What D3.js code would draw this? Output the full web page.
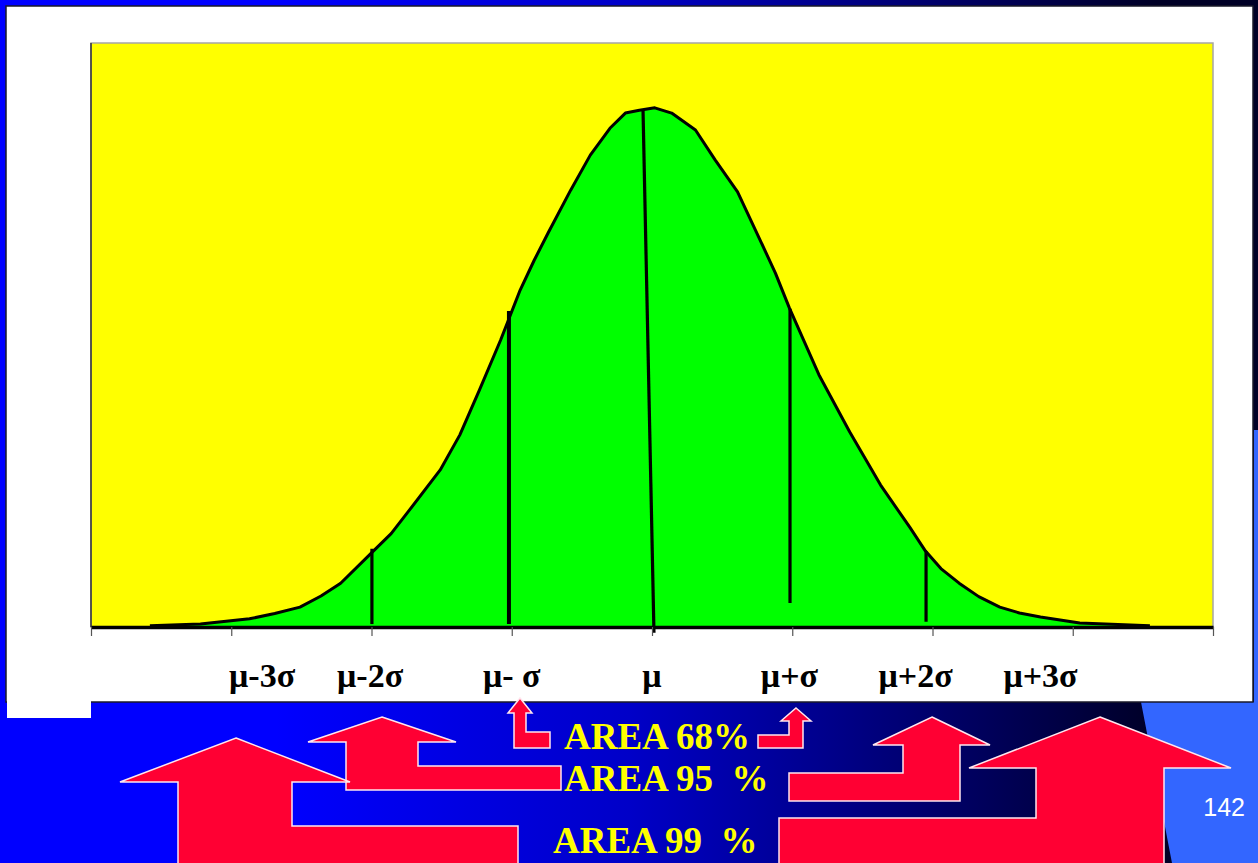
<!DOCTYPE html>
<html>
<head>
<meta charset="utf-8">
<script src="https://cdn.jsdelivr.net/npm/d3@7"></script>
<style>
  html, body { margin: 0; padding: 0; background: #0000ff; }
  svg { display: block; }
</style>
</head>
<body>
<svg id="slide" width="1258" height="863"></svg>
<script>
// Normal curve, x in units of sigma from the mean, height as % of the plot
const curveX = [-3.58, -3.22, -2.87, -2.69, -2.51, -2.36, -2.22, -2.00, -1.86, -1.73, -1.51, -1.37, -1.23,
                -1.08, -0.94, -0.84, -0.74, -0.58, -0.44, -0.30, -0.19, -0.09, 0.02, 0.14,
                0.31, 0.45, 0.61, 0.77, 0.88, 0.98, 1.19, 1.41, 1.63, 1.84, 1.95,
                2.06, 2.19, 2.33, 2.48, 2.62, 2.77, 3.05, 3.55];
const curveY = [0.2, 0.5, 1.4, 2.3, 3.4, 5.3, 7.5, 12.7, 16.0, 20.0, 26.9, 32.9, 40.6,
                49.1, 57.7, 62.8, 67.5, 74.8, 80.8, 85.4, 88.0, 88.5, 88.9, 88.0,
                85.1, 80.0, 74.5, 66.3, 60.6, 54.6, 43.2, 33.4, 24.3, 17.0, 13.0,
                10.0, 7.5, 5.2, 3.4, 2.4, 1.7, 0.7, 0.2];

// Tick values along the x axis
const tickValues = [-4, -3, -2, -1, 0, 1, 2, 3, 4];

// Axis labels and where they sit (sigma units)
const labelText = ["μ-3σ", "μ-2σ", "μ- σ", "μ", "μ+σ", "μ+2σ", "μ+3σ"];
const labelX    = [-2.78, -2.01, -1.0, 0, 0.98, 1.88, 2.77];

// Marker lines at mu and the sigma points: [x top, y top, x bottom, y bottom]
const markerNames = ["-2s", "-1s", "mean", "+1s", "+2s"];
const markerX1 = [-1.997, -1.02, -0.064, 0.984, 1.954];
const markerY1 = [13.4, 54.1, 88.5, 54.5, 13.0];
const markerX2 = [-1.997, -1.02, 0.014, 0.984, 1.954];
const markerY2 = [0.5, 0.5, -1.0, 4.1, 0.9];

// Area captions
const areaText = ["AREA 68%", "AREA 95  %", "AREA 99  %"];

const svg = d3.select("#slide");
const W = 1258, H = 863;

// ---- slide background ----
const defs = svg.append("defs");
const grad = defs.append("linearGradient").attr("id", "bg")
  .attr("x1", 0).attr("x2", 1).attr("y1", 0).attr("y2", 0);
grad.append("stop").attr("offset", "0.22").attr("stop-color", "#0000ff");
grad.append("stop").attr("offset", "0.5").attr("stop-color", "#0000c8");
grad.append("stop").attr("offset", "0.92").attr("stop-color", "#000026");
svg.append("rect").attr("width", W).attr("height", H).attr("fill", "url(#bg)");

// light blue corner shape at the lower right
svg.append("polygon")
  .attr("points", "1141,702 1254,702 1254,430 1258,430 1258,863 1172,863")
  .attr("fill", "#3366ff");

// white panel
svg.append("rect").attr("x", 6).attr("y", 6).attr("width", 1247).attr("height", 696)
  .attr("fill", "#ffffff").attr("stroke", "#1a1a2a").attr("stroke-width", 1.5);
svg.append("rect").attr("x", 7).attr("y", 700).attr("width", 84).attr("height", 18)
  .attr("fill", "#ffffff");

// ---- chart ----
const x = d3.scaleLinear().domain([-4, 4]).range([91, 1213]);
const y = d3.scaleLinear().domain([0, 100]).range([627, 43]);

svg.append("rect")
  .attr("x", x(-4)).attr("y", y(100))
  .attr("width", x(4) - x(-4)).attr("height", y(0) - y(100))
  .attr("fill", "#ffff00").attr("stroke", "#a6a6a6").attr("stroke-width", 1.5);
svg.append("line")
  .attr("x1", x(-4)).attr("x2", x(-4)).attr("y1", y(100)).attr("y2", y(0))
  .attr("stroke", "#333").attr("stroke-width", 1.5);

const pts = curveX.map((v, i) => [v, curveY[i]]);

svg.append("path").datum(pts)
  .attr("fill", "#00ff00")
  .attr("d", d3.area().x(d => x(d[0])).y0(y(0)).y1(d => y(d[1])));

svg.append("path").datum(pts)
  .attr("fill", "none").attr("stroke", "#000").attr("stroke-width", 3)
  .attr("stroke-linejoin", "round")
  .attr("d", d3.line().x(d => x(d[0])).y(d => y(d[1])));

svg.append("g").selectAll("line").data(markerNames).join("line")
  .attr("x1", (d, i) => x(markerX1[i])).attr("y1", (d, i) => y(markerY1[i]))
  .attr("x2", (d, i) => x(markerX2[i])).attr("y2", (d, i) => y(markerY2[i]))
  .attr("stroke", "#000").attr("stroke-width", (d, i) => i === 1 ? 4 : 3.2);

const axis = svg.append("g").attr("transform", `translate(0,${y(0)})`)
  .call(d3.axisBottom(x).tickValues(tickValues).tickFormat("")
    .tickSizeInner(9).tickSizeOuter(0));
axis.select(".domain").attr("stroke", "#000").attr("stroke-width", 3.5);
axis.selectAll(".tick line").attr("stroke", "#555").attr("stroke-width", 1.2);

svg.append("g").selectAll("text").data(labelText).join("text")
  .attr("x", (d, i) => x(labelX[i])).attr("y", 687)
  .attr("text-anchor", "middle")
  .attr("font-family", "'Liberation Serif', 'Times New Roman', serif")
  .attr("font-weight", "bold").attr("font-size", 34)
  .attr("fill", "#000").style("white-space", "pre")
  .text(d => d);

// ---- arrows pointing up at the sigma labels ----
const arrowShapes = [
  "520,698 532,713 526,713 526,732 550,732 550,748 514,748 514,713 508,713",
  "796,708 811,721 803,721 803,748 758,748 758,735 789,735 789,721 781,721",
  "382,717 456,742 418,742 418,766 561,766 561,790 346,790 346,742 308,742",
  "932,717 990,745 960,745 960,801 789,801 789,773 903,773 903,745 873,745",
  "236,738 350,782 292,782 292,826 518,826 518,870 178,870 178,782 120,782",
  "1100,717 1231,768 1164,768 1164,870 779,870 779,818 1036,818 1036,768 969,768"
];
svg.append("g").selectAll("polygon").data(arrowShapes).join("polygon")
  .attr("points", d => d)
  .attr("fill", "#ff0033").attr("stroke", "#ffe6ee").attr("stroke-width", 1.5)
  .attr("stroke-linejoin", "miter");

const areaPos = [[564, 749], [564, 791], [553, 853]];
svg.append("g").selectAll("text").data(areaText).join("text")
  .attr("x", (d, i) => areaPos[i][0]).attr("y", (d, i) => areaPos[i][1])
  .attr("font-family", "'Liberation Serif', 'Times New Roman', serif")
  .attr("font-weight", "bold").attr("font-size", 37)
  .attr("fill", "#ffff00").style("white-space", "pre")
  .text(d => d);

// slide number
svg.append("text").attr("x", 1245).attr("y", 816).attr("text-anchor", "end")
  .attr("font-family", "'Liberation Sans', Arial, sans-serif")
  .attr("font-size", 25).attr("fill", "#ffffff").text("142");
</script>
</body>
</html>
